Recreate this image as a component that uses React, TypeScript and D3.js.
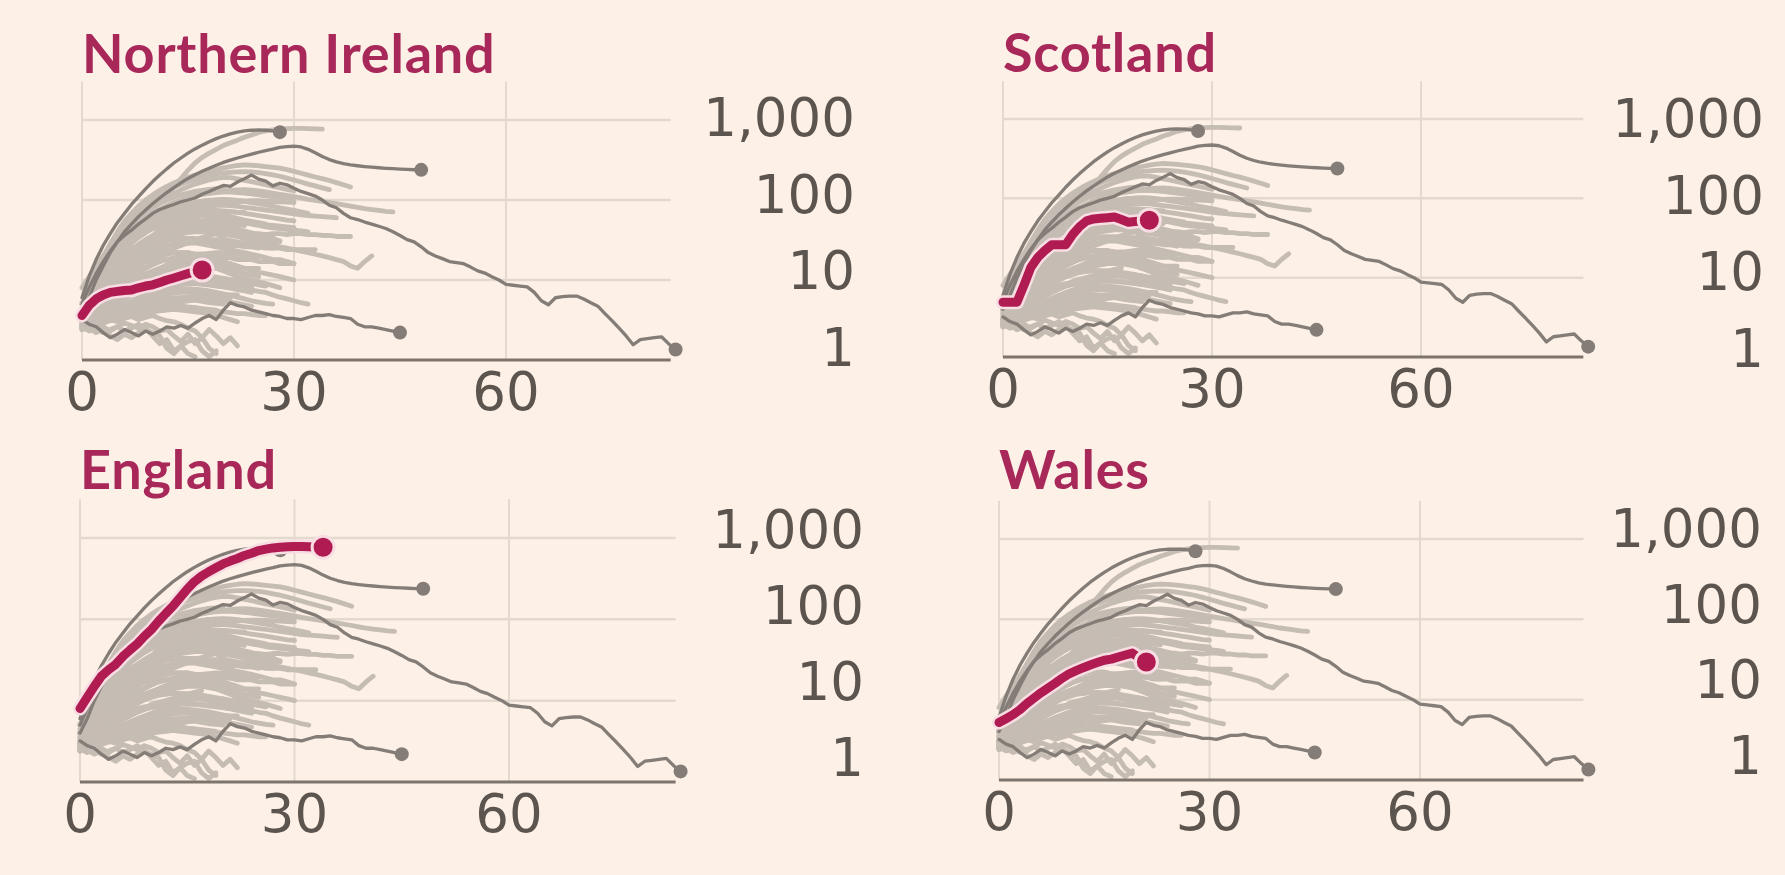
import React from "react";
import * as d3 from "d3";

// ---------- DATA (values indexed by day since start) ----------
const xTicks = [0, 30, 60];
const yTicks = [1, 10, 100, 1000];
const yTickLabels = ["1", "10", "100", "1,000"];
const panelNames = ["Northern Ireland", "Scotland", "England", "Wales"];

const northernIreland = [3.6, 4.8, 5.8, 6.5, 7, 7.2, 7.4, 7.5, 8, 8.4, 8.7, 9.3, 10, 10.6, 11.3, 12, 12.7, 13.3];
const scotland = [4.9, 4.9, 4.9, 8, 13.5, 18, 22, 26, 26, 26, 35, 44, 52, 55, 56, 57, 58, 54, 50, 51, 52, 53];
const england = [8, 11, 15, 20, 24, 28, 35, 42, 50, 62, 75, 95, 118, 145, 185, 235, 290, 340, 385, 430, 480, 520, 560, 610, 650, 700, 730, 755, 770, 780, 785, 785, 780, 775, 770];
const wales = [5.2, 5.8, 6.5, 7.5, 9, 10.5, 12.2, 14, 16, 18.5, 21, 23, 25, 27, 29, 31, 32, 34, 36, 38, 33, 29.5];

const darkA = [6, 11, 18, 27, 38, 52, 68, 88, 110, 138, 170, 205, 245, 290, 335, 385, 435, 485, 535, 585, 630, 670, 705, 730, 745, 750, 745, 730, 705];
const darkB = [4, 6, 10, 15, 22, 30, 40, 50, 62, 75, 90, 106, 124, 143, 164, 186, 207, 228, 250, 272, 295, 315, 335, 355, 375, 395, 415, 432, 455, 465, 470, 460, 430, 390, 350, 320, 300, 285, 275, 268, 262, 257, 253, 249, 246, 243, 241, 239, 238];
const darkC = [5, 8, 12, 17, 23, 30, 36, 42, 50, 58, 68, 76, 82, 88, 95, 100, 106, 118, 128, 140, 152, 148, 168, 185, 205, 182, 172, 150, 162, 155, 140, 128, 120, 112, 100, 86, 80, 68, 60, 57, 53, 50, 47, 44, 40, 36, 32, 30, 26, 22, 20, 18.5, 17, 16.5, 16, 14.5, 13, 12.2, 11, 10, 8.8, 8.6, 8.4, 8.2, 7, 5.5, 4.9, 6, 6.2, 6.3, 6.3, 5.8, 5.2, 4.7, 3.8, 3.1, 2.5, 2, 1.55, 1.8, 1.85, 1.9, 1.95, 1.6, 1.35];
const darkD = [3.2, 2.8, 2.6, 2.2, 1.9, 2.1, 2.4, 2.2, 2.0, 2.3, 2.1, 2.3, 2.6, 2.5, 2.7, 2.5, 2.9, 3.3, 3.6, 3.2, 4.2, 5.2, 4.8, 4.6, 4.2, 4.0, 3.8, 3.6, 3.5, 3.3, 3.3, 3.2, 3.4, 3.6, 3.6, 3.7, 3.5, 3.4, 3.3, 2.8, 2.6, 2.6, 2.5, 2.4, 2.3, 2.2];

const c1 = [4, 7, 12, 19, 28, 40, 54, 68, 84, 100, 116, 132, 148, 163, 178, 192, 205, 216, 228, 240, 252, 262, 270, 275, 272, 268, 262, 256, 250, 240, 228, 216, 205, 194, 185, 175, 165, 155, 145];
const c2 = [4, 6, 10, 16, 24, 34, 46, 60, 74, 88, 102, 116, 130, 144, 158, 170, 182, 194, 204, 212, 218, 222, 225, 226, 224, 220, 214, 206, 198, 188, 178, 168, 158, 150, 142, 135];
const c3 = [3, 5, 9, 14, 21, 30, 40, 50, 62, 74, 86, 98, 110, 122, 134, 146, 158, 168, 178, 186, 192, 190, 184, 176, 170, 162, 155, 148, 142, 136, 130];
const c4 = [4, 6, 9, 13, 18, 24, 31, 39, 48, 57, 66, 75, 84, 92, 100, 106, 112, 118, 122, 126, 130, 132, 134, 135, 133, 130, 126, 122, 118, 114, 110, 106, 102, 99, 96, 93, 90, 87, 84, 81, 78, 76, 74, 72, 71];
const c5 = [3, 4, 6, 8, 11, 14, 18, 22, 26, 30, 33, 36, 39, 41, 43, 44, 45, 45, 44, 43, 42, 41, 40, 39, 38, 38, 37, 38, 38, 37, 38, 38, 37, 37, 36, 36, 35, 35, 35];
const c6 = [3, 4, 5, 7, 9, 12, 15, 18, 22, 26, 30, 33, 36, 38, 40, 41, 42, 42, 41, 40, 39, 37, 35, 33, 31, 30, 28, 27, 26, 25, 24, 23, 22, 21, 20, 19, 18, 17, 15, 14, 17, 20];
const c7 = [3, 3.5, 4, 5, 6, 7, 8, 9, 10, 11, 11.5, 12, 12, 12.5, 12, 11.5, 11, 10.5, 10, 9.5, 9, 8.5, 8, 7.8, 7.5, 7.2, 7, 6.5, 6.1, 5.8, 5.5, 5.2, 5];
const c8 = [3, 4, 5, 6.5, 8, 10, 12, 14, 16, 18, 19, 20, 21, 22, 22, 22, 21, 20, 19, 18, 17, 16, 15, 14, 13, 12.5, 12, 11.5, 11, 10.5, 10];
const c9 = [4, 6, 9, 13, 18, 23, 29, 35, 41, 47, 52, 57, 61, 65, 68, 70, 72, 73, 74, 74, 73, 72, 70, 68, 66, 64, 62, 60, 58, 56, 55];
const c10 = [4, 6, 10, 15, 21, 28, 36, 44, 52, 60, 68, 76, 84, 92, 100, 108, 115, 120, 124, 126, 127, 126, 124, 122, 119, 116, 113, 110, 108, 106, 104];
const c11 = [3, 4, 5, 7, 9, 12, 15, 18, 21, 24, 27, 29, 31, 32, 33, 33, 33, 32, 31, 30, 29, 28, 27, 27, 26, 26, 25, 25, 25, 24, 24, 24, 24, 24];
const c12 = [3, 4, 5, 6, 8, 10, 12, 14, 16, 18, 19, 20, 21, 22, 22, 22, 21, 21, 20, 20, 19, 19, 18, 18, 18, 17, 17, 17, 16, 16, 16];
const c13 = [4, 6, 9, 13, 17, 22, 27, 32, 38, 44, 50, 56, 62, 67, 72, 76, 80, 83, 85, 86, 86, 85, 83, 81, 79, 77, 75, 73, 71, 69, 67, 65, 64, 63, 62, 61, 60];
const c14 = [3, 5, 8, 12, 17, 22, 28, 34, 40, 46, 52, 58, 63, 67, 70, 72, 73, 72, 70, 68, 65, 62, 59, 56, 54, 52, 50];
const c15 = [3, 4, 6, 8, 10, 12, 14, 16, 18, 20, 22, 24, 26, 28, 29, 30, 30, 30, 29, 29, 28, 27, 27, 26, 26, 25];
const c16 = [3, 4, 5, 6, 7, 8, 9, 10, 11, 12, 13, 14, 15, 16, 17, 17, 18, 18, 18, 18, 18];
const c17 = [2.5, 3, 3.5, 4, 5, 5.5, 6, 7, 7.5, 8, 9, 9.5, 10, 10.5, 11, 11, 11, 11, 11, 10.5, 10.5, 10, 10, 10, 10];
const c18 = [2.5, 3, 3.2, 3.6, 4, 4.5, 5, 5.5, 6, 6.5, 7, 7.5, 8, 8.5, 9, 9, 9, 8.8, 8.6, 8.4, 8.2, 8, 8];
const c19 = [2.4, 2.7, 3, 3.3, 3.6, 4, 4.3, 4.6, 5, 5.2, 5.5, 5.8, 6, 6, 6, 5.8, 5.6, 5.4, 5.2, 5.1, 5];
const c20 = [4, 6, 9, 13, 18, 24, 30, 37, 44, 51, 58, 65, 72, 78, 84, 89, 93, 97, 100];
const c21 = [4, 7, 11, 17, 24, 32, 41, 50, 60, 70, 80, 90, 100, 108, 116, 122, 128, 132, 136, 138, 140];
const c22 = [3, 4.5, 6.5, 9, 12, 15, 18, 21, 24, 27, 30, 33, 35, 37, 39, 40];
const c23 = [3, 4, 6, 8, 11, 14, 17, 20, 23, 26, 29, 32, 34, 36, 38, 40, 41, 42, 42, 41, 40, 39, 38, 37, 36, 36, 35, 35];
const c24 = [3, 4, 5.5, 7.5, 10, 13, 16, 19, 22, 25, 28, 31, 34, 36, 38, 39, 40, 40, 39, 38, 37, 36, 35, 34, 33, 32, 31, 30, 30];
const c25 = [3, 3.5, 4.2, 5, 6, 7, 8, 9, 10, 11, 12, 13, 14, 15, 15.5, 16, 16, 16, 15.5, 15, 15, 14.5, 14.5, 14, 14, 14];
const c26 = [4, 6, 8.5, 11.5, 15, 19, 24, 29, 34, 39, 44, 49, 54, 58, 62, 65, 68, 70, 72, 72, 72, 71, 70, 70];
const c27 = [2.5, 3, 3.6, 4.3, 5, 5.7, 6.4, 7, 7.5, 8, 8.2, 8.4, 8.2, 8, 7.8, 7.6, 7.4, 7.2, 7, 6.8, 6.6, 6.5, 6.5];
const c28 = [2.4, 2.6, 2.9, 3.2, 3.5, 3.8, 4.1, 4.4, 4.6, 4.8, 4.9, 5, 5, 4.9, 4.8, 4.6, 4.5, 4.3, 4.2, 4.1, 4, 3.9, 3.8, 3.8, 3.7, 3.6, 3.6];
const c29 = [5, 8, 13, 20, 28, 38, 50, 62, 76, 90, 105, 120, 134, 148, 160, 172, 182, 192, 200, 208];
const c30 = [3, 4.5, 6.5, 9, 12, 15, 18, 21, 24, 27, 30, 33, 36, 38, 40, 42, 44, 45, 46, 47, 47, 48];
const c31 = [3.5, 5, 7, 10, 14, 19, 25, 31, 37, 43, 48, 53, 57, 60, 62, 63, 64, 63, 62, 60, 58, 56, 54, 52, 50, 48, 46, 45, 44, 43, 42, 41, 40];
const c32 = [3, 4, 5.5, 7.5, 10, 12.5, 15, 17.5, 20, 22, 24, 26, 27, 28, 29, 29, 29, 28, 27, 26, 25, 24, 23, 22, 21, 20, 19, 18, 18, 17, 16];
const c33 = [4, 5.5, 8, 11, 15, 20, 26, 33, 40, 48, 56, 63, 70, 76, 82, 87, 92, 96, 99, 101, 102, 101, 99, 96, 93, 90, 87, 84, 80, 77, 74, 71, 68];
const c34 = [3, 4.5, 6, 8, 10, 12, 14, 15, 16, 17, 17.5, 18, 18, 18, 17.5, 17, 16.5, 16, 15, 14, 13, 12, 11, 10.5, 10, 9.5, 9, 8.5, 8];
const c35 = [2.8, 3.4, 4, 4.8, 5.6, 6.5, 7.5, 8.5, 9.5, 10.5, 11.5, 12.5, 13.5, 14, 14.5, 15, 15, 15, 14.5, 14, 13.5, 13, 12.5, 12, 11.5, 11];
const c36 = [5, 7, 10, 14, 19, 25, 32, 40, 48, 57, 66, 75, 84, 92, 99, 106, 112, 117, 121, 124, 126, 127, 126, 124, 121, 118, 115];
const c37 = [3, 3.6, 4.4, 5.4, 6.6, 8, 9.5, 11, 12.5, 14, 15.5, 17, 18, 19, 20, 20.5, 21, 21, 20.5, 20, 19.5, 19, 18.5, 18];
const c38 = [2.6, 3, 3.4, 3.9, 4.5, 5.1, 5.8, 6.5, 7.2, 7.8, 8.3, 8.7, 9, 9.2, 9.3, 9.3, 9.2, 9, 8.8, 8.5, 8.2, 7.9, 7.6, 7.3, 7];
const c39 = [3.5, 5, 7, 9.5, 12.5, 16, 20, 24, 28, 32, 36, 40, 44, 47, 50, 52, 54, 55, 56, 56, 55, 54, 53, 52, 51, 50, 49, 48, 47, 46, 45];
const c40 = [4, 6, 8.5, 12, 16, 21, 26, 31, 36, 40, 44, 47, 49, 50, 51, 51, 50, 49, 48, 46, 44, 42, 40];
const c41 = [2.7, 3.2, 3.8, 4.5, 5.3, 6.2, 7.2, 8.2, 9.2, 10.2, 11, 11.6, 12, 12.2, 12.3, 12.2, 12, 11.7, 11.3, 10.9, 10.5, 10.1, 9.7, 9.3, 9, 8.7, 8.4];
const c42 = [2.5, 2.8, 3.1, 3.5, 3.9, 4.3, 4.7, 5.1, 5.5, 5.9, 6.2, 6.5, 6.7, 6.9, 7, 7, 6.9, 6.8, 6.6, 6.4, 6.2, 6];
const c43 = [2.6, 2.9, 3.2, 3.3, 3.5, 3.6, 3.8, 3.9, 4.1, 4.2, 4.3, 4.4, 4.4, 4.3, 4.2, 4.1, 4, 3.9, 3.8, 3.6, 3.4, 3.2, 3];
const c44 = [4.5, 6.5, 9, 12, 16, 20, 25, 30, 35, 40, 45, 50, 55, 60, 65, 70, 75, 79, 83, 87, 90, 93, 95, 97, 98, 98, 97, 96, 95, 94, 93];
const c45 = [3.2, 4, 5, 6.2, 7.6, 9.2, 11, 13, 15, 17, 19, 21, 23, 25, 27, 29, 30, 31, 32, 32, 32, 31, 30, 29, 28, 27, 26, 25];
const c46 = [3, 3.8, 4.6, 5.6, 6.8, 8.2, 9.8, 11.5, 13, 14.5, 16, 17, 18, 18.5, 19, 19, 18.5, 18, 17, 16, 15, 14, 13, 12];
const c47 = [2.8, 3.2, 3.7, 4.2, 4.8, 5.4, 6, 6.6, 7.2, 7.8, 8.4, 9, 9.5, 10, 10.3, 10.5, 10.6, 10.5, 10.3, 10, 9.6, 9.2, 8.8, 8.4, 8];
const c48 = [3.1, 3.6, 4.2, 4.9, 5.7, 6.6, 7.6, 8.7, 9.9, 11.2, 12.6, 14, 15.4, 16.8, 18, 19, 20, 21, 21.5, 22, 22, 21.5, 21, 20.5, 20, 19.5];
const c49 = [3.8, 5, 6.6, 8.6, 11, 13.8, 17, 20.5, 24.5, 28.5, 32.5, 36.5, 40, 43, 46, 48, 50, 51, 52, 52, 51, 50, 49, 48];
const c50 = [2.6, 2.9, 3.2, 3.6, 4, 4.4, 4.9, 5.4, 5.9, 6.4, 6.8, 7.2, 7.5, 7.7, 7.8, 7.8, 7.7, 7.5, 7.3, 7, 6.7, 6.4, 6.1, 5.8, 5.5, 5.3, 5.1, 5];
const c51 = [2.5, 2.7, 2.9, 3.1, 3.3, 3.5, 3.7, 3.9, 4.1, 4.3, 4.5, 4.7, 4.9, 5.1, 5.3, 5.5, 5.6, 5.7, 5.7, 5.6, 5.5, 5.3, 5.1, 4.9, 4.7];
const c52 = [4.2, 6, 8.5, 11.5, 15, 19.5, 24.5, 30, 36, 42, 48, 54, 60, 66, 72, 78, 83, 88, 92, 95, 97, 98, 98, 97, 95, 92, 89, 86];
const c53 = [3.4, 4.5, 6, 7.8, 10, 12.5, 15.5, 19, 23, 27, 31, 35, 39, 42, 45, 47, 48, 49, 49, 48, 47, 45, 43, 41, 39, 37, 35, 33, 31];
const c54 = [2.7, 3, 3.3, 3.5, 3.8, 4, 4.3, 4.6, 4.8, 5, 5.2, 5.4, 5.6, 5.8, 6, 6.1, 6.2, 6.2, 6.1, 6, 5.9];
const c55 = [2.4, 2.6, 2.8, 2.9, 3.1, 3.2, 3.4, 3.5, 3.7, 3.8, 4, 4.1, 4.2, 4.3, 4.4, 4.5, 4.5, 4.4, 4.3, 4.2];
const t1 = [2.8, 2.5, 2.2, 2.4, 2.0, 1.8, 2.1, 1.9, 2.2, 2.5, 2.0, 1.6, 1.8, 1.3, 1.5, 1.2, 1.1];
const t2 = [2.5, 2.7, 2.4, 2.6, 2.3, 2.6, 2.9, 2.7, 2.5, 2.8, 2.6, 2.3, 2.4, 2.0, 1.7, 2.1, 1.6, 1.9, 1.4, 1.2];
const t3 = [3, 2.8, 3.1, 2.9, 3.2, 3.0, 3.3, 3.5, 3.2, 3.4, 3.6, 3.3, 3.1, 3.0, 2.8, 2.5, 2.3, 1.9, 2.4, 2.0, 1.6, 1.9, 1.5];
const t4 = [2.6, 2.3, 2.5, 2.2, 2.4, 2.6, 2.3, 2.5, 2.8, 2.4, 2.2, 2.0, 1.4, 1.2, 1.5, 1.7, 1.8, 1.3, 1.1, 1.3];

const ukSeries = [northernIreland, scotland, england, wales];
const darkSeries = [darkA, darkB, darkC, darkD];
const lightSeries = [
  c1, c2, c3, c4, c5, c6, c7, c8, c9, c10, c11, c12, c13, c14, c15, c16, c17, c18, c19, c20,
  c21, c22, c23, c24, c25, c26, c27, c28, c29, c30, c31, c32, c33, c34, c35, c36, c37, c38, c39, c40,
  c41, c42, c43, c44, c45, c46, c47, c48, c49, c50, c51, c52, c53, c54, c55, t1, t2, t3, t4,
];

// ---------- LAYOUT ----------
const W = 1785, H = 875;
const BG = "#fdf0e6";
const RED = "#b01c52";
const HALO = "#f8dde2";
const TITLE = "#a8285a";
const LIGHT = "#c5bcb4";
const DARK = "#847d77";
const GRID = "#e4d9cf";
const AXIS = "#7d746e";
const TEXT = "#5c544e";

const layouts = [
  { x0: 82, x60: 506, yBase: 360, y1000: 120, lab1: 366, lab1000: 136, labRight: 855, titleY: 73 },
  { x0: 1003, x60: 1421, yBase: 357, y1000: 119, lab1: 367, lab1000: 137, labRight: 1764, titleY: 72 },
  { x0: 80, x60: 509, yBase: 782, y1000: 538, lab1: 776, lab1000: 548, labRight: 864, titleY: 489 },
  { x0: 999, x60: 1420, yBase: 780, y1000: 539, lab1: 774, lab1000: 547, labRight: 1762, titleY: 489 },
];
const X_END = 83.3;
const Y_TOP = 3000;
const TICK_FONT = "'DejaVu Sans', sans-serif";

function Panel({ idx }: { idx: number }) {
  const L = layouts[idx];
  const x = d3.scaleLinear().domain([0, 60]).range([L.x0, L.x60]);
  const y = d3.scaleLog().domain([1, 1000]).range([L.yBase, L.y1000]);
  const labY = d3.scaleLog().domain([1, 1000]).range([L.lab1, L.lab1000]);
  const line = d3
    .line<number>()
    .x((_, i) => x(i))
    .y((d) => y(d))
    .curve(d3.curveLinear);

  const greyUK = ukSeries.filter((_, i) => i !== idx);
  const hl = ukSeries[idx];
  const last = (s: number[]) => [x(s.length - 1), y(s[s.length - 1])];

  return (
    <g>
      <text x={L.x0} y={L.titleY} fill={TITLE} fontFamily="Lato, 'Open Sans', sans-serif" fontWeight={700} fontSize={54} letterSpacing={0.8}>
        {panelNames[idx]}
      </text>
      {xTicks.map((t) => (
        <line key={"v" + t} x1={x(t)} x2={x(t)} y1={y(Y_TOP)} y2={L.yBase} stroke={GRID} strokeWidth={2} />
      ))}
      {yTicks.slice(1).map((t) => (
        <line key={"h" + t} x1={L.x0} x2={x(X_END)} y1={y(t)} y2={y(t)} stroke={GRID} strokeWidth={2.5} />
      ))}
      <g fill="none" strokeLinejoin="round" strokeLinecap="round">
        {lightSeries.concat(greyUK).map((s, i) => (
          <path key={"l" + i} d={line(s) || ""} stroke={LIGHT} strokeWidth={4.8} />
        ))}
        {darkSeries.map((s, i) => (
          <path key={"d" + i} d={line(s) || ""} stroke={DARK} strokeWidth={3.3} />
        ))}
      </g>
      {darkSeries.map((s, i) => {
        const [px, py] = last(s);
        return <circle key={"dd" + i} cx={px} cy={py} r={7} fill={DARK} />;
      })}
      <line x1={L.x0} x2={x(X_END)} y1={L.yBase} y2={L.yBase} stroke={AXIS} strokeWidth={3} />
      <g fill="none" strokeLinejoin="round" strokeLinecap="round">
        <path d={line(hl) || ""} stroke={HALO} strokeWidth={14} />
        <path d={line(hl) || ""} stroke={RED} strokeWidth={9} />
      </g>
      <circle cx={last(hl)[0]} cy={last(hl)[1]} r={11} fill={RED} stroke={HALO} strokeWidth={3} />
      {yTicks.map((t, i) => (
        <text key={"yl" + t} x={L.labRight} y={labY(t)} textAnchor="end" fill={TEXT} fontFamily={TICK_FONT} fontSize={53}>
          {yTickLabels[i]}
        </text>
      ))}
      {xTicks.map((t) => (
        <text key={"xl" + t} x={x(t)} y={L.yBase + 50} textAnchor="middle" fill={TEXT} fontFamily={TICK_FONT} fontSize={53}>
          {t}
        </text>
      ))}
    </g>
  );
}

export default function App() {
  return (
    <svg width={W} height={H} style={{ position: "absolute", left: 0, top: 0, display: "block" }}>
      <rect x={0} y={0} width={W} height={H} fill={BG} />
      {panelNames.map((_, i) => (
        <Panel key={i} idx={i} />
      ))}
    </svg>
  );
}
